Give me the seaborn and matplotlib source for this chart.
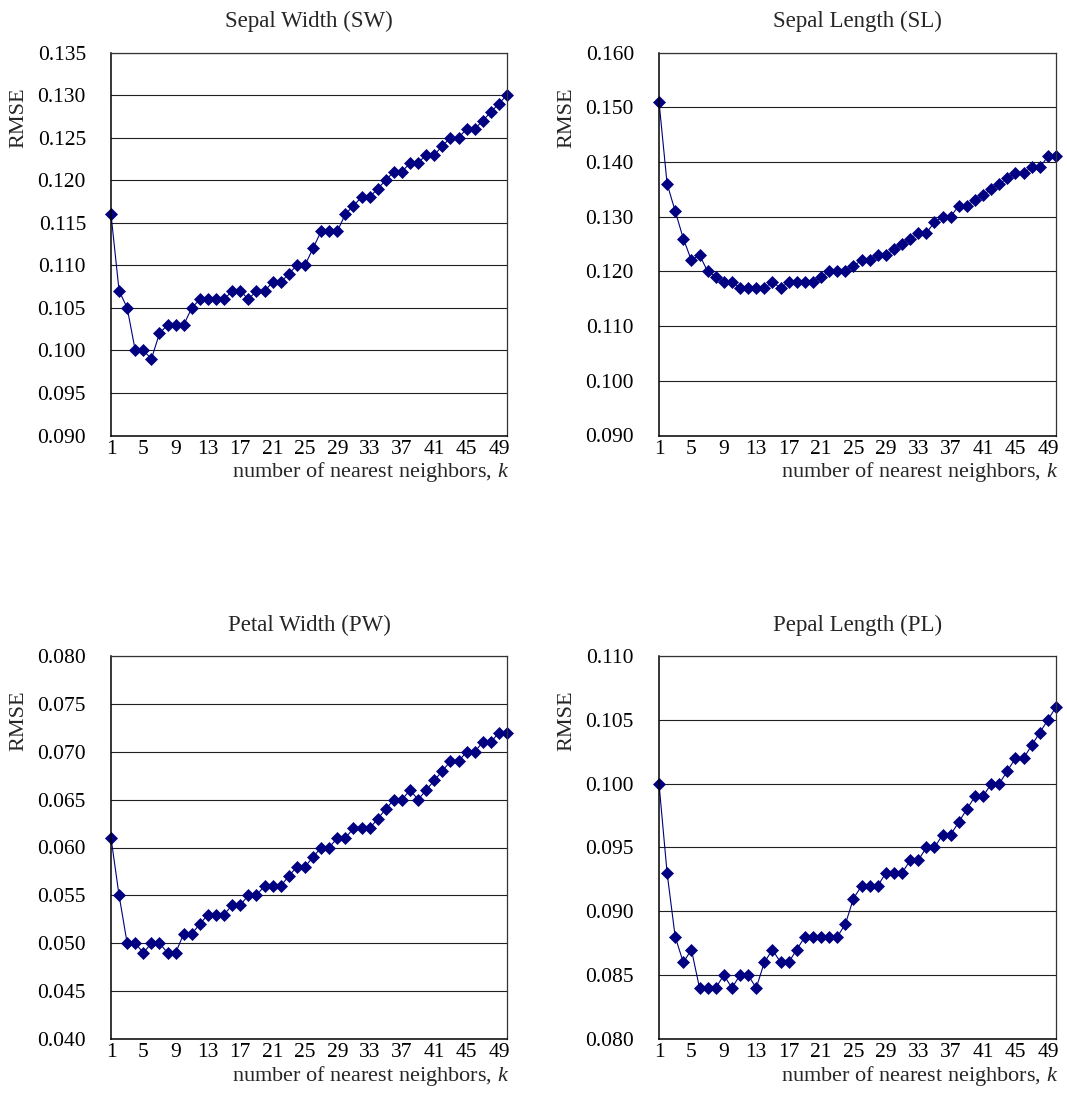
import numpy as np
import pandas as pd
import matplotlib
matplotlib.use("Agg")
import matplotlib.pyplot as plt
import seaborn as sns

# ---------------- data ----------------
k_values = list(range(1, 51))

sw_rmse = [0.116, 0.107, 0.105, 0.100, 0.100, 0.099, 0.102, 0.103, 0.103, 0.103,
           0.105, 0.106, 0.106, 0.106, 0.106, 0.107, 0.107, 0.106, 0.107, 0.107,
           0.108, 0.108, 0.109, 0.110, 0.110, 0.112, 0.114, 0.114, 0.114, 0.116,
           0.117, 0.118, 0.118, 0.119, 0.120, 0.121, 0.121, 0.122, 0.122, 0.123,
           0.123, 0.124, 0.125, 0.125, 0.126, 0.126, 0.127, 0.128, 0.129, 0.130]

sl_rmse = [0.151, 0.136, 0.131, 0.126, 0.122, 0.123, 0.120, 0.119, 0.118, 0.118,
           0.117, 0.117, 0.117, 0.117, 0.118, 0.117, 0.118, 0.118, 0.118, 0.118,
           0.119, 0.120, 0.120, 0.120, 0.121, 0.122, 0.122, 0.123, 0.123, 0.124,
           0.125, 0.126, 0.127, 0.127, 0.129, 0.130, 0.130, 0.132, 0.132, 0.133,
           0.134, 0.135, 0.136, 0.137, 0.138, 0.138, 0.139, 0.139, 0.141, 0.141]

pw_rmse = [0.061, 0.055, 0.050, 0.050, 0.049, 0.050, 0.050, 0.049, 0.049, 0.051,
           0.051, 0.052, 0.053, 0.053, 0.053, 0.054, 0.054, 0.055, 0.055, 0.056,
           0.056, 0.056, 0.057, 0.058, 0.058, 0.059, 0.060, 0.060, 0.061, 0.061,
           0.062, 0.062, 0.062, 0.063, 0.064, 0.065, 0.065, 0.066, 0.065, 0.066,
           0.067, 0.068, 0.069, 0.069, 0.070, 0.070, 0.071, 0.071, 0.072, 0.072]

pl_rmse = [0.100, 0.093, 0.088, 0.086, 0.087, 0.084, 0.084, 0.084, 0.085, 0.084,
           0.085, 0.085, 0.084, 0.086, 0.087, 0.086, 0.086, 0.087, 0.088, 0.088,
           0.088, 0.088, 0.088, 0.089, 0.091, 0.092, 0.092, 0.092, 0.093, 0.093,
           0.093, 0.094, 0.094, 0.095, 0.095, 0.096, 0.096, 0.097, 0.098, 0.099,
           0.099, 0.100, 0.100, 0.101, 0.102, 0.102, 0.103, 0.104, 0.105, 0.106]

titles = ["Sepal Width (SW)", "Sepal Length (SL)", "Petal Width (PW)", "Pepal Length (PL)"]
series = [sw_rmse, sl_rmse, pw_rmse, pl_rmse]
y_limits = [(0.090, 0.135), (0.090, 0.160), (0.040, 0.080), (0.080, 0.110)]
y_steps = [0.005, 0.010, 0.005, 0.005]
x_tick_values = list(range(1, 51, 4))
x_label = "number of nearest neighbors, $k$"
y_label = "RMSE"

# ---------------- style ----------------
sns.set_style("white")
plt.rcParams["font.family"] = ["Liberation Serif", "DejaVu Serif"]
plt.rcParams["mathtext.fontset"] = "custom"
plt.rcParams["mathtext.rm"] = "Liberation Serif"
plt.rcParams["mathtext.it"] = "Liberation Serif:italic"

W, H = 1067, 1104
fig = plt.figure(figsize=(W / 100, H / 100), dpi=100)
fig.patch.set_facecolor("white")

# axes boxes in pixels: (left, top, right, bottom)
boxes = [(111, 52.5, 507, 435.5), (659, 52.5, 1056, 435.5),
         (111, 656, 507, 1039), (659, 656, 1056, 1039)]

navy = "#000080"
for i in range(4):
    l, t, r, b = boxes[i]
    ax = fig.add_axes([l / W, 1 - b / H, (r - l) / W, (b - t) / H])
    df = pd.DataFrame({"k": k_values, "rmse": series[i]})
    sns.lineplot(data=df, x="k", y="rmse", ax=ax, color=navy, linewidth=0.8,
                 marker="D", markersize=5.8, markeredgecolor=navy,
                 markerfacecolor=navy, markeredgewidth=0.5, clip_on=False)
    ylo, yhi = y_limits[i]
    ax.set_xlim(1, 50)
    ax.set_ylim(ylo, yhi)
    yt = np.round(np.arange(ylo, yhi + y_steps[i] / 2, y_steps[i]), 3)
    ax.set_yticks(yt)
    ax.set_yticklabels([f"{v:.3f}" for v in yt])
    ax.set_xticks(x_tick_values)
    ax.set_xticklabels([str(v) for v in x_tick_values])
    ax.tick_params(axis="both", direction="in", labelsize=15.5, length=5,
                   width=1.0, color="black", labelcolor="black")
    ax.tick_params(axis="y", pad=18)
    ax.tick_params(axis="x", pad=3)
    ax.yaxis.grid(True, color="#202020", linewidth=0.8)
    ax.xaxis.grid(False)
    ax.set_axisbelow(True)
    for s in ["left", "bottom"]:
        ax.spines[s].set_color("black")
        ax.spines[s].set_linewidth(1.1)
    for s in ["top", "right"]:
        ax.spines[s].set_color("#333333")
        ax.spines[s].set_linewidth(0.9)
    ax.set_xlabel("")
    ax.set_ylabel(y_label, fontsize=16, va="center")
    ax.yaxis.set_label_coords(-0.232, 0.83)
    hpx = b - t
    ax.text(1.005, -(36.5 / hpx), x_label,
            transform=ax.transAxes, ha="right", va="center", fontsize=16)
    ax.text(0.5, 1 + 31 / hpx, titles[i], transform=ax.transAxes,
            ha="center", va="center", fontsize=16.5)

fig.savefig("out.png", dpi=100, facecolor="white")
